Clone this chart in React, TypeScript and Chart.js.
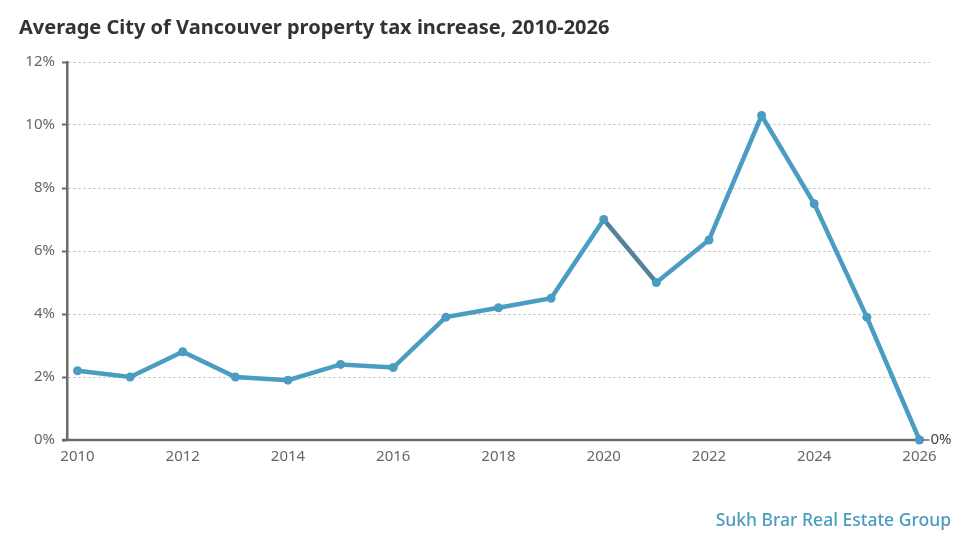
import React, { useEffect, useRef } from "react";
import { Chart, registerables } from "chart.js";

Chart.register(...registerables);

const years = [2010, 2011, 2012, 2013, 2014, 2015, 2016, 2017, 2018, 2019, 2020, 2021, 2022, 2023, 2024, 2025, 2026];
const taxIncrease = [2.2, 2.0, 2.8, 2.0, 1.9, 2.4, 2.3, 3.9, 4.2, 4.5, 7.0, 5.0, 6.35, 10.3, 7.5, 3.9, 0];
const xTicks = [2010, 2012, 2014, 2016, 2018, 2020, 2022, 2024, 2026];
const yTicks = [0, 2, 4, 6, 8, 10, 12];
const titleText = "Average City of Vancouver property tax increase, 2010-2026";
const sourceText = "Sukh Brar Real Estate Group";
const endLabel = "0%";

const LINE = "#4a9cc2";
const DARK_SEG = "#55819b";

export default function App() {
  const ref = useRef<HTMLCanvasElement | null>(null);
  useEffect(() => {
    document.body.style.margin = "0";
    const canvas = ref.current;
    if (!canvas) return;
    const textPlugin = {
      id: "texts",
      afterDraw(chart: any) {
        const ctx = chart.ctx;
        const xs = chart.scales.x;
        const ys = chart.scales.y;
        ctx.save();
        // custom x axis line
        ctx.strokeStyle = "#6b6b6b";
        ctx.lineWidth = 2.5;
        ctx.beginPath();
        ctx.moveTo(chart.chartArea.left - 5, ys.getPixelForValue(0));
        ctx.lineTo(xs.getPixelForValue(2026), ys.getPixelForValue(0));
        ctx.stroke();
        // redraw last point on top of axis line
        const meta = chart.getDatasetMeta(0);
        const last = meta.data[meta.data.length - 1];
        ctx.fillStyle = LINE;
        ctx.beginPath();
        ctx.arc(last.x, last.y, 4.5, 0, Math.PI * 2);
        ctx.fill();
        // title
        ctx.fillStyle = "#333333";
        ctx.font = "bold 20px 'Noto Sans'";
        ctx.textAlign = "left";
        ctx.textBaseline = "middle";
        ctx.fillText(titleText, 19, 28);
        // end label
        ctx.fillStyle = "#444444";
        ctx.font = "15px 'Noto Sans'";
        ctx.fillText(endLabel, last.x + 11, last.y);
        ctx.strokeStyle = "#6b6b6b";
        ctx.lineWidth = 1.5;
        ctx.beginPath();
        ctx.moveTo(last.x + 3, last.y);
        ctx.lineTo(last.x + 10, last.y);
        ctx.stroke();
        // source
        ctx.fillStyle = "#4a9cc0";
        ctx.font = "500 17.5px 'Noto Sans'";
        ctx.textAlign = "right";
        ctx.fillText(sourceText, 951, 521);
        ctx.restore();
      },
    };
    const chart = new Chart(canvas, {
      type: "line",
      data: {
        labels: years,
        datasets: [
          {
            data: years.map((y, i) => ({ x: y, y: taxIncrease[i] })),
            borderColor: LINE,
            backgroundColor: LINE,
            borderWidth: 4.5,
            pointRadius: 4.5,
            pointBackgroundColor: LINE,
            pointBorderWidth: 0,
            tension: 0,
            segment: {
              borderColor: (c: any) => (c.p0DataIndex === 10 ? DARK_SEG : LINE),
            },
          },
        ],
      },
      options: {
        animation: false,
        responsive: false,
        devicePixelRatio: 1,
        layout: { padding: { top: 62, right: 45, left: 0, bottom: 0 } },
        plugins: { legend: { display: false }, tooltip: { enabled: false }, title: { display: false } },
        scales: {
          x: {
            type: "linear",
            min: 2009.8,
            max: 2026.2,
            afterBuildTicks: (s: any) => {
              s.ticks = xTicks.map((v) => ({ value: v }));
            },
            afterFit: (s: any) => {
              s.height = 115;
            },
            grid: { display: false, drawTicks: false },
            border: { display: false },
            ticks: {
              color: "#666666",
              font: { family: "'Noto Sans'", size: 15 },
              padding: 8,
              maxRotation: 0,
              callback: (v: any) => String(v),
            },
          },
          y: {
            min: 0,
            max: 12,
            afterBuildTicks: (s: any) => {
              s.ticks = yTicks.map((v) => ({ value: v }));
            },
            afterFit: (s: any) => {
              s.width = 67;
            },
            grid: {
              color: (c: any) => (c.tick && c.tick.value === 0 ? "rgba(0,0,0,0)" : "#b8b8b8"),
              lineWidth: 1,
              tickColor: "#6b6b6b",
              tickLength: 5,
              tickWidth: 2,
              tickBorderDash: [],
            },
            border: { display: true, color: "#6b6b6b", width: 2.5, dash: [2, 3] },
            ticks: {
              color: "#666666",
              font: { family: "'Noto Sans'", size: 15 },
              padding: 7,
              callback: (v: any) => v + "%",
            },
          },
        },
      },
      plugins: [textPlugin],
    });
    return () => chart.destroy();
  }, []);
  return (
    <div style={{ width: 975, height: 555, background: "#fff" }}>
      <canvas ref={ref} width={975} height={555} />
    </div>
  );
}
